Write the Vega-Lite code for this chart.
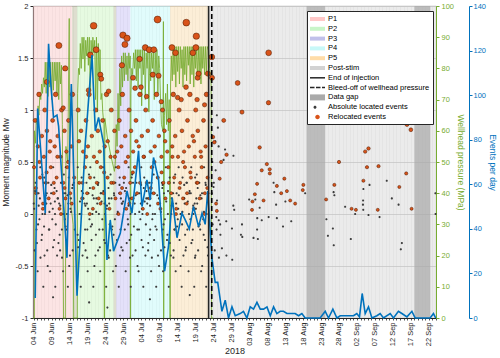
{
"$schema": "https://vega.github.io/schema/vega-lite/v6.json",
"width": 403, "height": 312,
"autosize": {"type": "none"},
"padding": {"left": 33, "top": 6, "right": 64, "bottom": 40},
"background": "white",
"config": {"font": "Liberation Sans", "view": {"stroke": "#9a9a9a", "strokeWidth": 0.8}, "axis": {"titleFontWeight": "normal", "labelColor": "#262626", "titleColor": "#262626"}},
"datasets": {
"phases": [
{"t":"2018-06-03T20:00","t2":"2018-06-14T17:00","c":"P1"},
{"t":"2018-06-14T17:00","t2":"2018-06-16T03:00","c":"S"},
{"t":"2018-06-16T03:00","t2":"2018-06-26T07:00","c":"P2"},
{"t":"2018-06-26T07:00","t2":"2018-06-27T00:00","c":"S"},
{"t":"2018-06-27T00:00","t2":"2018-06-30T22:00","c":"P3"},
{"t":"2018-06-30T22:00","t2":"2018-07-12T00:00","c":"P4"},
{"t":"2018-07-12T00:00","t2":"2018-07-22T17:00","c":"P5"},
{"t":"2018-07-22T17:00","t2":"2018-09-24T00:00","c":"Post"}
],
"gaps": [
{"t":"2018-08-18T23:00","t2":"2018-08-24T03:00"},
{"t":"2018-09-18T00:00","t2":"2018-09-22T10:00"}
],
"press": [
{"t":"2018-06-03T20:00","p":0},{"t":"2018-06-04T05:00","p":0},{"t":"2018-06-04T06:00","p":60},{"t":"2018-06-04T12:00","p":56},{"t":"2018-06-04T18:00","p":64},
{"t":"2018-06-05T00:00","p":62},{"t":"2018-06-05T06:00","p":68},{"t":"2018-06-05T12:00","p":65},{"t":"2018-06-05T18:00","p":72},
{"t":"2018-06-06T00:00","p":70},{"t":"2018-06-06T06:00","p":75},{"t":"2018-06-06T12:00","p":72},{"t":"2018-06-06T18:00","p":77},
{"t":"2018-06-07T00:00","p":74},{"t":"2018-06-07T06:00","p":82},{"t":"2018-06-07T12:00","p":72},{"t":"2018-06-07T18:00","p":82},
{"t":"2018-06-08T00:00","p":71},{"t":"2018-06-08T06:00","p":82},{"t":"2018-06-08T12:00","p":74},{"t":"2018-06-08T18:00","p":82},
{"t":"2018-06-09T00:00","p":70},{"t":"2018-06-09T06:00","p":82},{"t":"2018-06-09T12:00","p":73},{"t":"2018-06-09T18:00","p":82},
{"t":"2018-06-10T00:00","p":76},{"t":"2018-06-10T06:00","p":82},{"t":"2018-06-10T12:00","p":72},{"t":"2018-06-10T18:00","p":82},
{"t":"2018-06-11T00:00","p":70},{"t":"2018-06-11T06:00","p":82},{"t":"2018-06-11T12:00","p":75},{"t":"2018-06-11T18:00","p":81},
{"t":"2018-06-12T00:00","p":62},{"t":"2018-06-12T08:00","p":0},{"t":"2018-06-12T20:00","p":0},{"t":"2018-06-13T00:00","p":55},{"t":"2018-06-13T12:00","p":50},
{"t":"2018-06-13T22:00","p":96},{"t":"2018-06-14T02:00","p":40},{"t":"2018-06-14T12:00","p":35},{"t":"2018-06-15T00:00","p":30},{"t":"2018-06-15T04:00","p":0},
{"t":"2018-06-16T04:00","p":0},{"t":"2018-06-16T06:00","p":72},{"t":"2018-06-16T12:00","p":80},{"t":"2018-06-16T18:00","p":78},
{"t":"2018-06-17T00:00","p":88},{"t":"2018-06-17T06:00","p":80},{"t":"2018-06-17T12:00","p":90},{"t":"2018-06-17T18:00","p":83},
{"t":"2018-06-18T00:00","p":90},{"t":"2018-06-18T06:00","p":79},{"t":"2018-06-18T12:00","p":89},{"t":"2018-06-18T18:00","p":84},
{"t":"2018-06-19T00:00","p":90},{"t":"2018-06-19T06:00","p":81},{"t":"2018-06-19T12:00","p":90},{"t":"2018-06-19T18:00","p":73},
{"t":"2018-06-20T00:00","p":89},{"t":"2018-06-20T06:00","p":83},{"t":"2018-06-20T12:00","p":90},{"t":"2018-06-20T18:00","p":85},
{"t":"2018-06-21T00:00","p":89},{"t":"2018-06-21T06:00","p":70},{"t":"2018-06-21T12:00","p":90},{"t":"2018-06-21T18:00","p":66},
{"t":"2018-06-22T00:00","p":88},{"t":"2018-06-22T06:00","p":76},{"t":"2018-06-22T12:00","p":86},{"t":"2018-06-22T18:00","p":70},
{"t":"2018-06-23T00:00","p":72},{"t":"2018-06-23T06:00","p":66},{"t":"2018-06-23T14:00","p":62},{"t":"2018-06-23T16:00","p":0},{"t":"2018-06-23T18:00","p":0},
{"t":"2018-06-23T20:00","p":64},{"t":"2018-06-24T12:00","p":58},{"t":"2018-06-25T12:00","p":52},{"t":"2018-06-26T12:00","p":47},{"t":"2018-06-26T18:00","p":50},
{"t":"2018-06-27T00:00","p":62},{"t":"2018-06-27T06:00","p":55},{"t":"2018-06-27T12:00","p":72},{"t":"2018-06-27T18:00","p":60},
{"t":"2018-06-28T00:00","p":80},{"t":"2018-06-28T06:00","p":68},{"t":"2018-06-28T12:00","p":84},{"t":"2018-06-28T18:00","p":74},
{"t":"2018-06-29T00:00","p":85},{"t":"2018-06-29T06:00","p":76},{"t":"2018-06-29T12:00","p":85},{"t":"2018-06-29T18:00","p":78},
{"t":"2018-06-30T00:00","p":84},{"t":"2018-06-30T06:00","p":76},{"t":"2018-06-30T12:00","p":85},{"t":"2018-06-30T18:00","p":80},{"t":"2018-06-30T21:00","p":84},{"t":"2018-06-30T22:00","p":0},
{"t":"2018-07-01T00:00","p":0},{"t":"2018-07-01T02:00","p":72},{"t":"2018-07-01T08:00","p":80},{"t":"2018-07-01T14:00","p":78},{"t":"2018-07-01T20:00","p":85},
{"t":"2018-07-02T02:00","p":80},{"t":"2018-07-02T08:00","p":86},{"t":"2018-07-02T14:00","p":76},{"t":"2018-07-02T20:00","p":86},
{"t":"2018-07-03T02:00","p":74},{"t":"2018-07-03T08:00","p":86},{"t":"2018-07-03T14:00","p":80},{"t":"2018-07-03T20:00","p":86},
{"t":"2018-07-04T02:00","p":68},{"t":"2018-07-04T08:00","p":86},{"t":"2018-07-04T14:00","p":78},{"t":"2018-07-04T20:00","p":86},
{"t":"2018-07-05T02:00","p":70},{"t":"2018-07-05T08:00","p":85},{"t":"2018-07-05T14:00","p":80},{"t":"2018-07-05T20:00","p":86},
{"t":"2018-07-06T02:00","p":66},{"t":"2018-07-06T08:00","p":86},{"t":"2018-07-06T14:00","p":76},{"t":"2018-07-06T20:00","p":85},
{"t":"2018-07-07T02:00","p":80},{"t":"2018-07-07T08:00","p":86},{"t":"2018-07-07T14:00","p":70},{"t":"2018-07-07T20:00","p":85},
{"t":"2018-07-08T02:00","p":78},{"t":"2018-07-08T08:00","p":86},{"t":"2018-07-08T14:00","p":72},{"t":"2018-07-08T20:00","p":84},
{"t":"2018-07-09T02:00","p":80},{"t":"2018-07-09T08:00","p":70},{"t":"2018-07-09T14:00","p":62},{"t":"2018-07-10T00:00","p":60},{"t":"2018-07-10T03:00","p":95},{"t":"2018-07-10T05:00","p":0},
{"t":"2018-07-10T10:00","p":65},{"t":"2018-07-10T18:00","p":72},{"t":"2018-07-11T00:00","p":62},{"t":"2018-07-11T06:00","p":75},{"t":"2018-07-11T12:00","p":60},{"t":"2018-07-11T18:00","p":70},{"t":"2018-07-11T23:00","p":0},
{"t":"2018-07-12T01:00","p":0},{"t":"2018-07-12T03:00","p":75},{"t":"2018-07-12T08:00","p":84},{"t":"2018-07-12T14:00","p":76},{"t":"2018-07-12T20:00","p":87},
{"t":"2018-07-13T02:00","p":78},{"t":"2018-07-13T08:00","p":87},{"t":"2018-07-13T14:00","p":74},{"t":"2018-07-13T20:00","p":87},
{"t":"2018-07-14T02:00","p":79},{"t":"2018-07-14T08:00","p":87},{"t":"2018-07-14T14:00","p":75},{"t":"2018-07-14T20:00","p":87},
{"t":"2018-07-15T02:00","p":80},{"t":"2018-07-15T08:00","p":86},{"t":"2018-07-15T14:00","p":74},{"t":"2018-07-15T20:00","p":87},
{"t":"2018-07-16T02:00","p":78},{"t":"2018-07-16T08:00","p":87},{"t":"2018-07-16T14:00","p":76},{"t":"2018-07-16T20:00","p":87},
{"t":"2018-07-17T02:00","p":81},{"t":"2018-07-17T08:00","p":87},{"t":"2018-07-17T14:00","p":75},{"t":"2018-07-17T20:00","p":87},
{"t":"2018-07-18T02:00","p":78},{"t":"2018-07-18T08:00","p":87},{"t":"2018-07-18T14:00","p":74},{"t":"2018-07-18T20:00","p":87},
{"t":"2018-07-19T02:00","p":80},{"t":"2018-07-19T08:00","p":87},{"t":"2018-07-19T14:00","p":77},{"t":"2018-07-19T20:00","p":87},
{"t":"2018-07-20T02:00","p":78},{"t":"2018-07-20T08:00","p":87},{"t":"2018-07-20T14:00","p":75},{"t":"2018-07-20T20:00","p":87},
{"t":"2018-07-21T02:00","p":80},{"t":"2018-07-21T08:00","p":87},{"t":"2018-07-21T14:00","p":78},{"t":"2018-07-21T20:00","p":87},
{"t":"2018-07-22T02:00","p":79},{"t":"2018-07-22T08:00","p":87},{"t":"2018-07-22T14:00","p":86},{"t":"2018-07-22T17:00","p":86},
{"t":"2018-07-23T00:00","p":80},{"t":"2018-07-23T10:00","p":75},{"t":"2018-07-23T13:00","p":0},{"t":"2018-07-24T00:00","p":0}
],
"rate": [
{"t":"2018-06-04T11:00","v":9},{"t":"2018-06-05T03:00","v":94},{"t":"2018-06-07T06:00","v":47},{"t":"2018-06-08T04:00","v":123},{"t":"2018-06-08T19:00","v":105},
{"t":"2018-06-09T13:00","v":90},{"t":"2018-06-10T12:00","v":91},{"t":"2018-06-10T23:00","v":86},{"t":"2018-06-13T07:00","v":27},{"t":"2018-06-14T12:00","v":105},
{"t":"2018-06-16T02:00","v":10},{"t":"2018-06-18T09:00","v":78},{"t":"2018-06-20T06:00","v":118},{"t":"2018-06-21T04:00","v":84},{"t":"2018-06-22T02:00","v":90},
{"t":"2018-06-23T12:00","v":78},{"t":"2018-06-24T10:00","v":26},{"t":"2018-06-25T08:00","v":44},{"t":"2018-06-26T06:00","v":30},{"t":"2018-06-28T03:00","v":38},
{"t":"2018-06-30T00:00","v":57},{"t":"2018-07-01T09:00","v":47},{"t":"2018-07-03T05:00","v":75},{"t":"2018-07-04T04:00","v":50},{"t":"2018-07-05T13:00","v":62},
{"t":"2018-07-06T11:00","v":53},{"t":"2018-07-07T09:00","v":72},{"t":"2018-07-08T19:00","v":62},{"t":"2018-07-10T11:00","v":21},{"t":"2018-07-11T13:00","v":32},
{"t":"2018-07-12T14:00","v":54},{"t":"2018-07-13T22:00","v":36},{"t":"2018-07-15T07:00","v":47},{"t":"2018-07-16T05:00","v":44},{"t":"2018-07-17T08:00","v":40},
{"t":"2018-07-18T12:00","v":50},{"t":"2018-07-19T22:00","v":41},{"t":"2018-07-20T21:00","v":47},{"t":"2018-07-21T18:00","v":42},{"t":"2018-07-22T11:00","v":57},
{"t":"2018-07-23T15:00","v":27},{"t":"2018-07-24T13:00","v":16},{"t":"2018-07-25T06:00","v":16},{"t":"2018-07-26T10:00","v":3},{"t":"2018-07-27T08:00","v":8},
{"t":"2018-07-28T06:00","v":0},{"t":"2018-07-29T05:00","v":5},{"t":"2018-07-30T03:00","v":1},{"t":"2018-07-31T12:00","v":2},{"t":"2018-08-01T10:00","v":3},
{"t":"2018-08-02T09:00","v":0},{"t":"2018-08-03T07:00","v":5},{"t":"2018-08-04T05:00","v":4},{"t":"2018-08-05T04:00","v":7},{"t":"2018-08-06T02:00","v":4},
{"t":"2018-08-07T00:00","v":4},{"t":"2018-08-07T23:00","v":5},{"t":"2018-08-08T21:00","v":1},{"t":"2018-08-09T19:00","v":5},{"t":"2018-08-10T17:00","v":2},
{"t":"2018-08-11T15:00","v":3},{"t":"2018-08-12T13:00","v":3},{"t":"2018-08-13T12:00","v":2},{"t":"2018-08-14T10:00","v":2},{"t":"2018-08-15T19:00","v":2},
{"t":"2018-08-16T18:00","v":1},{"t":"2018-08-17T16:00","v":2},{"t":"2018-08-18T14:00","v":0},{"t":"2018-08-22T18:00","v":0},{"t":"2018-08-24T04:00","v":3},
{"t":"2018-08-25T02:00","v":0},{"t":"2018-08-26T07:00","v":4},{"t":"2018-08-27T10:00","v":0},{"t":"2018-08-28T08:00","v":1},{"t":"2018-09-01T01:00","v":1},
{"t":"2018-09-01T23:00","v":2},{"t":"2018-09-02T17:00","v":0.5},{"t":"2018-09-03T11:00","v":11},{"t":"2018-09-04T07:00","v":2},{"t":"2018-09-05T05:00","v":5},
{"t":"2018-09-06T04:00","v":0},{"t":"2018-09-07T13:00","v":1},{"t":"2018-09-08T11:00","v":2},{"t":"2018-09-09T09:00","v":0},{"t":"2018-09-11T06:00","v":2},
{"t":"2018-09-12T04:00","v":0},{"t":"2018-09-13T13:00","v":3},{"t":"2018-09-14T12:00","v":2},{"t":"2018-09-15T22:00","v":0.5},{"t":"2018-09-17T07:00","v":3},
{"t":"2018-09-18T05:00","v":0},{"t":"2018-09-22T09:00","v":0},{"t":"2018-09-23T07:00","v":2},{"t":"2018-09-23T22:00","v":0}
],
"abs": [
{"t":"2018-06-04T01:00","m":0.1},{"t":"2018-06-04T04:00","m":0.05},{"t":"2018-06-04T07:00","m":-0.35},{"t":"2018-06-04T13:00","m":0.3},{"t":"2018-06-04T16:00","m":0.25},{"t":"2018-06-04T19:00","m":-0.15},
{"t":"2018-06-05T03:00","m":-0.55},{"t":"2018-06-05T06:00","m":-0.1},{"t":"2018-06-05T09:00","m":0.2},{"t":"2018-06-05T15:00","m":-0.05},{"t":"2018-06-05T18:00","m":0.15},{"t":"2018-06-05T21:00","m":0.45},
{"t":"2018-06-06T05:00","m":-0.25},{"t":"2018-06-06T08:00","m":-0.2},{"t":"2018-06-06T11:00","m":0.0},{"t":"2018-06-06T17:00","m":-0.7},{"t":"2018-06-06T20:00","m":0.3},{"t":"2018-06-06T23:00","m":0.35},
{"t":"2018-06-07T01:00","m":-0.4},{"t":"2018-06-07T04:00","m":0.0},{"t":"2018-06-07T07:00","m":0.15},{"t":"2018-06-07T13:00","m":0.1},{"t":"2018-06-07T16:00","m":0.2},{"t":"2018-06-07T19:00","m":-0.35},
{"t":"2018-06-08T03:00","m":0.3},{"t":"2018-06-08T06:00","m":-0.15},{"t":"2018-06-08T09:00","m":-0.15},{"t":"2018-06-08T15:00","m":-0.55},{"t":"2018-06-08T18:00","m":0.1},{"t":"2018-06-08T21:00","m":0.2},
{"t":"2018-06-09T05:00","m":-0.05},{"t":"2018-06-09T08:00","m":0.05},{"t":"2018-06-09T10:00","m":-0.8},{"t":"2018-06-09T11:00","m":0.45},{"t":"2018-06-09T17:00","m":-0.25},{"t":"2018-06-09T20:00","m":0.25},{"t":"2018-06-09T23:00","m":0.0},
{"t":"2018-06-10T01:00","m":-0.7},{"t":"2018-06-10T04:00","m":-0.1},{"t":"2018-06-10T07:00","m":0.35},{"t":"2018-06-10T13:00","m":-0.4},{"t":"2018-06-10T16:00","m":0.15},{"t":"2018-06-10T19:00","m":0.15},
{"t":"2018-06-11T03:00","m":0.1},{"t":"2018-06-11T06:00","m":-0.2},{"t":"2018-06-11T09:00","m":-0.35},{"t":"2018-06-11T15:00","m":0.3},{"t":"2018-06-11T18:00","m":0.3},{"t":"2018-06-11T21:00","m":-0.15},
{"t":"2018-06-12T05:00","m":-0.55},{"t":"2018-06-12T08:00","m":0.0},{"t":"2018-06-12T11:00","m":0.2},{"t":"2018-06-12T17:00","m":-0.05},{"t":"2018-06-12T20:00","m":0.2},{"t":"2018-06-12T23:00","m":0.45},
{"t":"2018-06-13T01:00","m":-0.25},{"t":"2018-06-13T04:00","m":-0.15},{"t":"2018-06-13T07:00","m":0.0},{"t":"2018-06-13T13:00","m":-0.7},{"t":"2018-06-13T16:00","m":0.1},{"t":"2018-06-13T19:00","m":0.35},
{"t":"2018-06-14T03:00","m":-0.4},{"t":"2018-06-14T06:00","m":0.05},{"t":"2018-06-14T09:00","m":0.15},{"t":"2018-06-14T15:00","m":0.1},{"t":"2018-06-14T18:00","m":0.25},{"t":"2018-06-14T21:00","m":-0.35},
{"t":"2018-06-15T05:00","m":0.3},{"t":"2018-06-15T11:00","m":-0.15},
{"t":"2018-06-16T06:00","m":-0.2},{"t":"2018-06-16T07:00","m":0.45},{"t":"2018-06-16T13:00","m":-0.25},{"t":"2018-06-16T16:00","m":0.3},{"t":"2018-06-16T19:00","m":0.0},
{"t":"2018-06-17T03:00","m":-0.7},{"t":"2018-06-17T06:00","m":0.0},{"t":"2018-06-17T09:00","m":0.35},{"t":"2018-06-17T15:00","m":-0.4},{"t":"2018-06-17T18:00","m":0.2},{"t":"2018-06-17T21:00","m":0.15},
{"t":"2018-06-18T05:00","m":0.1},{"t":"2018-06-18T08:00","m":-0.15},{"t":"2018-06-18T11:00","m":-0.35},{"t":"2018-06-18T17:00","m":0.3},{"t":"2018-06-18T20:00","m":0.1},{"t":"2018-06-18T23:00","m":-0.15},
{"t":"2018-06-19T01:00","m":-0.55},{"t":"2018-06-19T04:00","m":0.05},{"t":"2018-06-19T07:00","m":0.2},{"t":"2018-06-19T11:00","m":-0.85},{"t":"2018-06-19T13:00","m":-0.05},{"t":"2018-06-19T16:00","m":0.25},{"t":"2018-06-19T19:00","m":0.45},
{"t":"2018-06-20T03:00","m":-0.25},{"t":"2018-06-20T06:00","m":-0.1},{"t":"2018-06-20T09:00","m":0.0},{"t":"2018-06-20T15:00","m":-0.7},{"t":"2018-06-20T18:00","m":0.15},{"t":"2018-06-20T21:00","m":0.35},
{"t":"2018-06-21T05:00","m":-0.4},{"t":"2018-06-21T08:00","m":-0.2},{"t":"2018-06-21T11:00","m":0.15},{"t":"2018-06-21T17:00","m":0.1},{"t":"2018-06-21T20:00","m":0.3},{"t":"2018-06-21T23:00","m":-0.35},
{"t":"2018-06-22T01:00","m":0.3},{"t":"2018-06-22T04:00","m":0.0},{"t":"2018-06-22T07:00","m":-0.15},{"t":"2018-06-22T13:00","m":-0.55},{"t":"2018-06-22T16:00","m":0.2},{"t":"2018-06-22T19:00","m":0.2},
{"t":"2018-06-23T03:00","m":-0.05},{"t":"2018-06-23T06:00","m":-0.15},{"t":"2018-06-23T09:00","m":0.45},{"t":"2018-06-23T15:00","m":-0.25},{"t":"2018-06-23T18:00","m":0.1},{"t":"2018-06-23T21:00","m":0.0},
{"t":"2018-06-24T05:00","m":-0.7},{"t":"2018-06-24T08:00","m":0.05},{"t":"2018-06-24T11:00","m":0.35},{"t":"2018-06-24T13:00","m":-0.9},{"t":"2018-06-24T17:00","m":-0.4},{"t":"2018-06-24T20:00","m":0.25},{"t":"2018-06-24T23:00","m":0.15},
{"t":"2018-06-25T01:00","m":0.1},{"t":"2018-06-25T04:00","m":-0.1},{"t":"2018-06-25T07:00","m":-0.35},{"t":"2018-06-25T13:00","m":0.3},{"t":"2018-06-25T16:00","m":0.15},{"t":"2018-06-25T19:00","m":-0.15},
{"t":"2018-06-26T03:00","m":-0.55},{"t":"2018-06-26T06:00","m":-0.2},{"t":"2018-06-26T09:00","m":0.2},{"t":"2018-06-26T15:00","m":-0.05},{"t":"2018-06-26T18:00","m":0.3},{"t":"2018-06-26T21:00","m":0.45},
{"t":"2018-06-27T05:00","m":-0.25},{"t":"2018-06-27T08:00","m":0.0},{"t":"2018-06-27T11:00","m":0.0},{"t":"2018-06-27T17:00","m":-0.7},{"t":"2018-06-27T20:00","m":0.2},{"t":"2018-06-27T23:00","m":0.35},
{"t":"2018-06-28T01:00","m":-0.4},{"t":"2018-06-28T04:00","m":-0.15},{"t":"2018-06-28T07:00","m":0.15},{"t":"2018-06-28T13:00","m":0.1},{"t":"2018-06-28T16:00","m":0.1},{"t":"2018-06-28T19:00","m":-0.35},
{"t":"2018-06-29T03:00","m":0.3},{"t":"2018-06-29T06:00","m":0.05},{"t":"2018-06-29T09:00","m":-0.15},{"t":"2018-06-29T15:00","m":-0.55},{"t":"2018-06-29T18:00","m":0.25},{"t":"2018-06-29T21:00","m":0.2},
{"t":"2018-06-30T05:00","m":-0.05},{"t":"2018-06-30T08:00","m":-0.1},{"t":"2018-06-30T11:00","m":0.45},{"t":"2018-06-30T17:00","m":-0.25},{"t":"2018-06-30T20:00","m":0.15},{"t":"2018-06-30T23:00","m":0.0},
{"t":"2018-07-01T01:00","m":-0.7},{"t":"2018-07-01T04:00","m":-0.2},{"t":"2018-07-01T07:00","m":0.35},{"t":"2018-07-01T13:00","m":-0.4},{"t":"2018-07-01T16:00","m":0.3},{"t":"2018-07-01T19:00","m":0.15},
{"t":"2018-07-02T03:00","m":0.1},{"t":"2018-07-02T06:00","m":0.0},{"t":"2018-07-02T09:00","m":-0.35},{"t":"2018-07-02T15:00","m":0.3},{"t":"2018-07-02T18:00","m":0.2},{"t":"2018-07-02T21:00","m":-0.15},
{"t":"2018-07-03T05:00","m":-0.55},{"t":"2018-07-03T08:00","m":-0.15},{"t":"2018-07-03T11:00","m":0.2},{"t":"2018-07-03T17:00","m":-0.05},{"t":"2018-07-03T20:00","m":0.1},{"t":"2018-07-03T23:00","m":0.45},
{"t":"2018-07-04T01:00","m":-0.25},{"t":"2018-07-04T04:00","m":0.05},{"t":"2018-07-04T07:00","m":0.0},{"t":"2018-07-04T13:00","m":-0.7},{"t":"2018-07-04T16:00","m":0.25},{"t":"2018-07-04T19:00","m":0.35},
{"t":"2018-07-05T03:00","m":-0.4},{"t":"2018-07-05T06:00","m":-0.1},{"t":"2018-07-05T09:00","m":0.15},{"t":"2018-07-05T15:00","m":0.1},{"t":"2018-07-05T18:00","m":0.15},{"t":"2018-07-05T21:00","m":-0.35},
{"t":"2018-07-06T05:00","m":0.3},{"t":"2018-07-06T08:00","m":-0.2},{"t":"2018-07-06T09:00","m":-0.82},{"t":"2018-07-06T11:00","m":-0.15},{"t":"2018-07-06T17:00","m":-0.55},{"t":"2018-07-06T20:00","m":0.3},{"t":"2018-07-06T23:00","m":0.2},
{"t":"2018-07-07T01:00","m":-0.05},{"t":"2018-07-07T04:00","m":0.0},{"t":"2018-07-07T07:00","m":0.45},{"t":"2018-07-07T13:00","m":-0.25},{"t":"2018-07-07T16:00","m":0.2},{"t":"2018-07-07T19:00","m":0.0},
{"t":"2018-07-08T03:00","m":-0.7},{"t":"2018-07-08T06:00","m":-0.15},{"t":"2018-07-08T09:00","m":0.35},{"t":"2018-07-08T15:00","m":-0.4},{"t":"2018-07-08T18:00","m":0.1},{"t":"2018-07-08T21:00","m":0.15},
{"t":"2018-07-09T05:00","m":0.1},{"t":"2018-07-09T08:00","m":0.05},{"t":"2018-07-09T11:00","m":-0.35},{"t":"2018-07-09T17:00","m":0.3},{"t":"2018-07-09T20:00","m":0.25},{"t":"2018-07-09T23:00","m":-0.15},
{"t":"2018-07-10T01:00","m":-0.55},{"t":"2018-07-10T04:00","m":-0.1},{"t":"2018-07-10T07:00","m":0.2},{"t":"2018-07-10T13:00","m":-0.05},{"t":"2018-07-10T16:00","m":0.15},{"t":"2018-07-10T19:00","m":0.45},
{"t":"2018-07-11T03:00","m":-0.25},{"t":"2018-07-11T06:00","m":-0.2},{"t":"2018-07-11T09:00","m":0.0},{"t":"2018-07-11T15:00","m":-0.7},{"t":"2018-07-11T18:00","m":0.3},{"t":"2018-07-11T21:00","m":0.35},
{"t":"2018-07-12T05:00","m":-0.4},{"t":"2018-07-12T08:00","m":0.0},{"t":"2018-07-12T11:00","m":0.15},{"t":"2018-07-12T17:00","m":0.1},{"t":"2018-07-12T20:00","m":0.2},{"t":"2018-07-12T23:00","m":-0.35},
{"t":"2018-07-13T01:00","m":0.3},{"t":"2018-07-13T04:00","m":-0.15},{"t":"2018-07-13T07:00","m":-0.15},{"t":"2018-07-13T13:00","m":-0.55},{"t":"2018-07-13T16:00","m":0.1},{"t":"2018-07-13T19:00","m":0.2},
{"t":"2018-07-14T03:00","m":-0.05},{"t":"2018-07-14T06:00","m":0.05},{"t":"2018-07-14T09:00","m":0.45},{"t":"2018-07-14T15:00","m":-0.25},{"t":"2018-07-14T18:00","m":0.25},{"t":"2018-07-14T21:00","m":0.0},
{"t":"2018-07-15T05:00","m":-0.7},{"t":"2018-07-15T08:00","m":-0.1},{"t":"2018-07-15T11:00","m":0.35},{"t":"2018-07-15T17:00","m":-0.4},{"t":"2018-07-15T20:00","m":0.15},{"t":"2018-07-15T23:00","m":0.15},
{"t":"2018-07-16T01:00","m":0.1},{"t":"2018-07-16T04:00","m":-0.2},{"t":"2018-07-16T07:00","m":-0.35},{"t":"2018-07-16T13:00","m":0.3},{"t":"2018-07-16T16:00","m":0.3},{"t":"2018-07-16T19:00","m":-0.15},
{"t":"2018-07-17T03:00","m":-0.55},{"t":"2018-07-17T06:00","m":0.0},{"t":"2018-07-17T09:00","m":0.2},{"t":"2018-07-17T11:00","m":-0.78},{"t":"2018-07-17T15:00","m":-0.05},{"t":"2018-07-17T18:00","m":0.2},{"t":"2018-07-17T21:00","m":0.45},
{"t":"2018-07-18T05:00","m":-0.25},{"t":"2018-07-18T08:00","m":-0.15},{"t":"2018-07-18T11:00","m":0.0},{"t":"2018-07-18T17:00","m":-0.7},{"t":"2018-07-18T20:00","m":0.1},{"t":"2018-07-18T23:00","m":0.35},
{"t":"2018-07-19T01:00","m":-0.4},{"t":"2018-07-19T04:00","m":0.05},{"t":"2018-07-19T07:00","m":0.15},{"t":"2018-07-19T13:00","m":0.1},{"t":"2018-07-19T16:00","m":0.25},{"t":"2018-07-19T19:00","m":-0.35},
{"t":"2018-07-20T03:00","m":0.3},{"t":"2018-07-20T06:00","m":-0.1},{"t":"2018-07-20T09:00","m":-0.15},{"t":"2018-07-20T15:00","m":-0.55},{"t":"2018-07-20T18:00","m":0.15},{"t":"2018-07-20T21:00","m":0.2},
{"t":"2018-07-21T05:00","m":-0.05},{"t":"2018-07-21T08:00","m":-0.2},{"t":"2018-07-21T11:00","m":0.45},{"t":"2018-07-21T17:00","m":-0.25},{"t":"2018-07-21T20:00","m":0.3},{"t":"2018-07-21T23:00","m":0.0},
{"t":"2018-07-22T01:00","m":-0.7},{"t":"2018-07-22T04:00","m":0.0},{"t":"2018-07-22T07:00","m":0.35},{"t":"2018-07-22T13:00","m":-0.4},{"t":"2018-07-22T16:00","m":0.2},
{"t":"2018-06-04T10:00","m":0.22},{"t":"2018-06-04T22:00","m":-0.28},{"t":"2018-06-05T10:00","m":0.08},{"t":"2018-06-05T22:00","m":-0.42},{"t":"2018-06-06T10:00","m":0.38},{"t":"2018-06-06T22:00","m":-0.12},
{"t":"2018-06-07T10:00","m":0.18},{"t":"2018-06-07T22:00","m":-0.5},{"t":"2018-06-08T10:00","m":0.02},{"t":"2018-06-08T22:00","m":0.28},{"t":"2018-06-09T10:00","m":-0.32},{"t":"2018-06-09T22:00","m":0.12},
{"t":"2018-06-10T10:00","m":0.22},{"t":"2018-06-10T22:00","m":-0.28},{"t":"2018-06-11T10:00","m":0.08},{"t":"2018-06-11T22:00","m":-0.42},{"t":"2018-06-12T10:00","m":0.38},{"t":"2018-06-12T22:00","m":-0.12},
{"t":"2018-06-13T10:00","m":0.18},{"t":"2018-06-13T22:00","m":-0.5},{"t":"2018-06-14T10:00","m":0.02},{"t":"2018-06-14T22:00","m":0.28},{"t":"2018-06-16T10:00","m":-0.32},{"t":"2018-06-16T22:00","m":0.12},
{"t":"2018-06-17T10:00","m":0.22},{"t":"2018-06-17T22:00","m":-0.28},{"t":"2018-06-18T10:00","m":0.08},{"t":"2018-06-18T22:00","m":-0.42},{"t":"2018-06-19T10:00","m":0.38},{"t":"2018-06-19T22:00","m":-0.12},
{"t":"2018-06-20T10:00","m":0.18},{"t":"2018-06-20T22:00","m":-0.5},{"t":"2018-06-21T10:00","m":0.02},{"t":"2018-06-21T22:00","m":0.28},{"t":"2018-06-22T10:00","m":-0.32},{"t":"2018-06-22T22:00","m":0.12},
{"t":"2018-06-23T10:00","m":0.22},{"t":"2018-06-23T22:00","m":-0.28},{"t":"2018-06-24T10:00","m":0.08},{"t":"2018-06-24T22:00","m":-0.42},{"t":"2018-06-25T10:00","m":0.38},{"t":"2018-06-25T22:00","m":-0.12},
{"t":"2018-06-26T10:00","m":0.18},{"t":"2018-06-26T22:00","m":-0.5},{"t":"2018-06-27T10:00","m":0.02},{"t":"2018-06-27T22:00","m":0.28},{"t":"2018-06-28T10:00","m":-0.32},{"t":"2018-06-28T22:00","m":0.12},
{"t":"2018-06-29T10:00","m":0.22},{"t":"2018-06-29T22:00","m":-0.28},{"t":"2018-06-30T10:00","m":0.08},{"t":"2018-06-30T20:00","m":-0.42},{"t":"2018-07-01T10:00","m":0.38},{"t":"2018-07-01T22:00","m":-0.12},
{"t":"2018-07-02T10:00","m":0.18},{"t":"2018-07-02T22:00","m":-0.5},{"t":"2018-07-03T10:00","m":0.02},{"t":"2018-07-03T22:00","m":0.28},{"t":"2018-07-04T10:00","m":-0.32},{"t":"2018-07-04T22:00","m":0.12},
{"t":"2018-07-05T10:00","m":0.22},{"t":"2018-07-05T22:00","m":-0.28},{"t":"2018-07-06T10:00","m":0.08},{"t":"2018-07-06T22:00","m":-0.42},{"t":"2018-07-07T10:00","m":0.38},{"t":"2018-07-07T22:00","m":-0.12},
{"t":"2018-07-08T10:00","m":0.18},{"t":"2018-07-08T22:00","m":-0.5},{"t":"2018-07-09T10:00","m":0.02},{"t":"2018-07-09T22:00","m":0.28},{"t":"2018-07-10T10:00","m":-0.32},{"t":"2018-07-10T22:00","m":0.12},
{"t":"2018-07-11T10:00","m":0.22},{"t":"2018-07-11T22:00","m":-0.28},{"t":"2018-07-12T10:00","m":0.08},{"t":"2018-07-12T22:00","m":-0.42},{"t":"2018-07-13T10:00","m":0.38},{"t":"2018-07-13T22:00","m":-0.12},
{"t":"2018-07-14T10:00","m":0.18},{"t":"2018-07-14T22:00","m":-0.5},{"t":"2018-07-15T10:00","m":0.02},{"t":"2018-07-15T22:00","m":0.28},{"t":"2018-07-16T10:00","m":-0.32},{"t":"2018-07-16T22:00","m":0.12},
{"t":"2018-07-17T10:00","m":0.22},{"t":"2018-07-17T22:00","m":-0.28},{"t":"2018-07-18T10:00","m":0.08},{"t":"2018-07-18T22:00","m":-0.42},{"t":"2018-07-19T10:00","m":0.38},{"t":"2018-07-19T22:00","m":-0.12},
{"t":"2018-07-20T10:00","m":0.18},{"t":"2018-07-20T22:00","m":-0.5},{"t":"2018-07-21T10:00","m":0.02},{"t":"2018-07-21T22:00","m":0.28},{"t":"2018-07-22T10:00","m":-0.32},
{"t":"2018-07-23T14:00","m":0.2},{"t":"2018-07-23T18:00","m":0.5},{"t":"2018-07-23T20:00","m":-0.1},{"t":"2018-07-24T02:00","m":0.26},{"t":"2018-07-24T04:00","m":0.3},{"t":"2018-07-24T10:00","m":-0.35},
{"t":"2018-07-24T14:00","m":0.7},{"t":"2018-07-24T16:00","m":0.42},{"t":"2018-07-24T20:00","m":-0.03},{"t":"2018-07-24T22:00","m":-0.15},{"t":"2018-07-25T00:00","m":0.95},{"t":"2018-07-25T01:00","m":0.13},
{"t":"2018-07-25T07:00","m":0.83},{"t":"2018-07-25T12:00","m":0.65},{"t":"2018-07-25T13:00","m":-0.06},{"t":"2018-07-25T14:00","m":-0.42},{"t":"2018-07-25T22:00","m":-0.1},{"t":"2018-07-26T00:00","m":-0.2},
{"t":"2018-07-26T10:00","m":-0.33},{"t":"2018-07-26T21:00","m":0.52},{"t":"2018-07-27T07:00","m":0.62},{"t":"2018-07-27T15:00","m":-0.07},{"t":"2018-07-27T16:00","m":-0.4},{"t":"2018-07-29T05:00","m":-0.14},
{"t":"2018-07-29T07:00","m":-0.44},{"t":"2018-07-29T14:00","m":0.08},{"t":"2018-07-29T15:00","m":0.56},{"t":"2018-07-29T20:00","m":0.04},{"t":"2018-07-31T17:00","m":-0.2},{"t":"2018-08-01T00:00","m":-0.1},
{"t":"2018-08-01T02:00","m":-0.22},{"t":"2018-08-03T00:00","m":0.14},{"t":"2018-08-04T05:00","m":-0.23},{"t":"2018-08-04T17:00","m":0.14},{"t":"2018-08-05T05:00","m":-0.15},{"t":"2018-08-05T06:00","m":-0.04},
{"t":"2018-08-05T10:00","m":-0.24},{"t":"2018-08-05T22:00","m":0.06},{"t":"2018-08-06T12:00","m":-0.06},{"t":"2018-08-08T10:00","m":-0.03},{"t":"2018-08-09T19:00","m":0.3},{"t":"2018-08-10T00:00","m":0.21},
{"t":"2018-08-10T12:00","m":0.09},{"t":"2018-08-10T17:00","m":-0.04},{"t":"2018-08-12T10:00","m":-0.12},{"t":"2018-08-13T02:00","m":0.12},{"t":"2018-08-14T17:00","m":-0.07},{"t":"2018-08-18T14:00","m":0.2},
{"t":"2018-08-24T12:00","m":-0.05},{"t":"2018-08-24T22:00","m":-0.21},{"t":"2018-08-26T07:00","m":-0.14},{"t":"2018-08-26T12:00","m":0.21},{"t":"2018-08-26T13:00","m":-0.3},{"t":"2018-08-26T17:00","m":0.18},
{"t":"2018-08-29T17:00","m":0.07},{"t":"2018-08-31T07:00","m":-0.24},{"t":"2018-09-01T12:00","m":0.0},{"t":"2018-09-03T16:00","m":0.09},{"t":"2018-09-03T17:00","m":0.13},{"t":"2018-09-03T18:00","m":0.04},
{"t":"2018-09-03T19:00","m":0.24},{"t":"2018-09-05T05:00","m":-0.01},{"t":"2018-09-05T12:00","m":0.28},{"t":"2018-09-08T07:00","m":-0.03},{"t":"2018-09-10T07:00","m":0.32},{"t":"2018-09-11T17:00","m":0.15},
{"t":"2018-09-13T14:00","m":0.09},{"t":"2018-09-14T05:00","m":-0.34},{"t":"2018-09-14T12:00","m":-0.28},{"t":"2018-09-23T20:00","m":0.2},{"t":"2018-09-23T21:00","m":0.0}
],
"rel": [
{"t":"2018-06-04T03:00","m":0.45},{"t":"2018-06-04T10:00","m":0.9},{"t":"2018-06-04T17:00","m":0.2},
{"t":"2018-06-05T05:00","m":0.65},{"t":"2018-06-05T12:00","m":1.15},{"t":"2018-06-05T19:00","m":0.35},
{"t":"2018-06-06T07:00","m":0.75},{"t":"2018-06-06T14:00","m":0.05},{"t":"2018-06-06T21:00","m":0.55},
{"t":"2018-06-07T03:00","m":1.0},{"t":"2018-06-07T10:00","m":0.3},{"t":"2018-06-07T16:00","m":1.27},{"t":"2018-06-07T17:00","m":0.8},
{"t":"2018-06-08T05:00","m":0.15},{"t":"2018-06-08T12:00","m":0.6},{"t":"2018-06-08T19:00","m":0.45},
{"t":"2018-06-09T07:00","m":0.9},{"t":"2018-06-09T14:00","m":0.2},{"t":"2018-06-09T21:00","m":0.65},
{"t":"2018-06-10T03:00","m":1.15},{"t":"2018-06-10T10:00","m":0.35},{"t":"2018-06-10T17:00","m":0.75},
{"t":"2018-06-11T01:00","m":1.62},{"t":"2018-06-11T05:00","m":0.05},{"t":"2018-06-11T12:00","m":0.55},{"t":"2018-06-11T19:00","m":1.0},
{"t":"2018-06-12T06:00","m":1.02},{"t":"2018-06-12T07:00","m":0.3},{"t":"2018-06-12T14:00","m":0.8},{"t":"2018-06-12T19:00","m":1.4},{"t":"2018-06-12T21:00","m":0.15},
{"t":"2018-06-13T03:00","m":0.6},{"t":"2018-06-13T10:00","m":0.45},{"t":"2018-06-13T17:00","m":0.9},
{"t":"2018-06-14T05:00","m":0.2},{"t":"2018-06-14T12:00","m":0.65},{"t":"2018-06-14T19:00","m":1.15},
{"t":"2018-06-15T07:00","m":0.35},
{"t":"2018-06-16T10:00","m":1.0},{"t":"2018-06-16T17:00","m":0.3},
{"t":"2018-06-17T05:00","m":0.8},{"t":"2018-06-17T12:00","m":0.15},{"t":"2018-06-17T19:00","m":0.6},
{"t":"2018-06-18T07:00","m":0.45},{"t":"2018-06-18T14:00","m":0.9},{"t":"2018-06-18T21:00","m":0.2},
{"t":"2018-06-19T03:00","m":0.65},{"t":"2018-06-19T07:00","m":1.19},{"t":"2018-06-19T10:00","m":1.15},{"t":"2018-06-19T17:00","m":0.35},{"t":"2018-06-19T19:00","m":1.53},
{"t":"2018-06-20T05:00","m":0.75},{"t":"2018-06-20T12:00","m":0.05},{"t":"2018-06-20T17:00","m":1.81},{"t":"2018-06-20T19:00","m":0.55},
{"t":"2018-06-21T07:00","m":1.0},{"t":"2018-06-21T10:00","m":1.58},{"t":"2018-06-21T14:00","m":0.3},{"t":"2018-06-21T21:00","m":0.8},
{"t":"2018-06-22T03:00","m":0.15},{"t":"2018-06-22T10:00","m":0.6},{"t":"2018-06-22T14:00","m":1.34},{"t":"2018-06-22T17:00","m":0.45},{"t":"2018-06-22T20:00","m":1.3},
{"t":"2018-06-23T05:00","m":0.9},{"t":"2018-06-23T12:00","m":0.2},{"t":"2018-06-23T19:00","m":0.65},
{"t":"2018-06-24T07:00","m":1.15},{"t":"2018-06-24T14:00","m":0.35},{"t":"2018-06-24T21:00","m":1.18},
{"t":"2018-06-25T03:00","m":0.05},{"t":"2018-06-25T10:00","m":0.55},{"t":"2018-06-25T15:00","m":1.0},
{"t":"2018-06-26T05:00","m":0.3},{"t":"2018-06-26T12:00","m":0.8},{"t":"2018-06-26T19:00","m":0.15},
{"t":"2018-06-27T07:00","m":0.6},{"t":"2018-06-27T14:00","m":0.45},{"t":"2018-06-27T21:00","m":0.9},
{"t":"2018-06-28T03:00","m":0.2},{"t":"2018-06-28T10:00","m":0.65},{"t":"2018-06-28T14:00","m":1.43},{"t":"2018-06-28T17:00","m":1.15},{"t":"2018-06-28T21:00","m":1.72},
{"t":"2018-06-29T05:00","m":0.35},{"t":"2018-06-29T10:00","m":1.63},{"t":"2018-06-29T12:00","m":0.75},{"t":"2018-06-29T19:00","m":0.05},
{"t":"2018-06-30T00:00","m":1.69},{"t":"2018-06-30T07:00","m":0.55},{"t":"2018-06-30T14:00","m":1.0},{"t":"2018-06-30T21:00","m":0.3},
{"t":"2018-07-01T03:00","m":0.8},{"t":"2018-07-01T10:00","m":0.15},{"t":"2018-07-01T16:00","m":1.31},{"t":"2018-07-01T17:00","m":0.6},
{"t":"2018-07-02T05:00","m":0.45},{"t":"2018-07-02T06:00","m":1.21},{"t":"2018-07-02T12:00","m":0.9},{"t":"2018-07-02T19:00","m":0.2},
{"t":"2018-07-03T07:00","m":0.65},{"t":"2018-07-03T12:00","m":1.49},{"t":"2018-07-03T14:00","m":1.15},{"t":"2018-07-03T21:00","m":1.22},
{"t":"2018-07-04T03:00","m":0.75},{"t":"2018-07-04T10:00","m":0.05},{"t":"2018-07-04T17:00","m":0.55},
{"t":"2018-07-05T02:00","m":1.6},{"t":"2018-07-05T05:00","m":1.0},{"t":"2018-07-05T11:00","m":1.13},{"t":"2018-07-05T12:00","m":0.3},{"t":"2018-07-05T19:00","m":0.8},
{"t":"2018-07-06T04:00","m":1.58},{"t":"2018-07-06T07:00","m":0.15},{"t":"2018-07-06T14:00","m":0.6},{"t":"2018-07-06T21:00","m":0.45},
{"t":"2018-07-07T03:00","m":0.9},{"t":"2018-07-07T04:00","m":1.34},{"t":"2018-07-07T10:00","m":0.2},{"t":"2018-07-07T11:00","m":1.58},{"t":"2018-07-07T17:00","m":0.65},
{"t":"2018-07-08T05:00","m":1.15},{"t":"2018-07-08T12:00","m":1.87},{"t":"2018-07-08T14:00","m":0.35},{"t":"2018-07-08T19:00","m":1.33},{"t":"2018-07-08T21:00","m":0.75},
{"t":"2018-07-09T07:00","m":0.05},{"t":"2018-07-09T13:00","m":1.08},{"t":"2018-07-09T14:00","m":0.55},{"t":"2018-07-09T21:00","m":1.0},
{"t":"2018-07-10T03:00","m":0.3},{"t":"2018-07-10T10:00","m":0.8},{"t":"2018-07-10T17:00","m":0.15},
{"t":"2018-07-11T05:00","m":0.6},{"t":"2018-07-11T12:00","m":0.45},{"t":"2018-07-11T19:00","m":0.9},
{"t":"2018-07-12T07:00","m":0.2},{"t":"2018-07-12T12:00","m":1.6},{"t":"2018-07-12T14:00","m":0.65},{"t":"2018-07-12T21:00","m":1.15},
{"t":"2018-07-13T03:00","m":0.35},{"t":"2018-07-13T10:00","m":0.75},{"t":"2018-07-13T12:00","m":1.55},{"t":"2018-07-13T17:00","m":0.05},
{"t":"2018-07-14T02:00","m":1.12},{"t":"2018-07-14T05:00","m":0.55},{"t":"2018-07-14T12:00","m":1.0},{"t":"2018-07-14T19:00","m":0.3},
{"t":"2018-07-15T02:00","m":1.1},{"t":"2018-07-15T07:00","m":0.8},{"t":"2018-07-15T14:00","m":0.15},{"t":"2018-07-15T21:00","m":0.6},
{"t":"2018-07-16T03:00","m":0.45},{"t":"2018-07-16T10:00","m":1.22},{"t":"2018-07-16T12:00","m":1.84},{"t":"2018-07-16T17:00","m":0.2},{"t":"2018-07-16T20:00","m":0.9},
{"t":"2018-07-17T05:00","m":0.65},{"t":"2018-07-17T12:00","m":1.15},{"t":"2018-07-17T19:00","m":0.35},
{"t":"2018-07-18T07:00","m":0.75},{"t":"2018-07-18T08:00","m":1.55},{"t":"2018-07-18T14:00","m":0.05},{"t":"2018-07-18T21:00","m":0.55},
{"t":"2018-07-19T03:00","m":1.0},{"t":"2018-07-19T04:00","m":1.6},{"t":"2018-07-19T07:00","m":1.71},{"t":"2018-07-19T10:00","m":0.3},{"t":"2018-07-19T12:00","m":1.1},{"t":"2018-07-19T16:00","m":1.31},{"t":"2018-07-19T17:00","m":0.8},{"t":"2018-07-19T22:00","m":1.35},
{"t":"2018-07-20T05:00","m":0.15},{"t":"2018-07-20T12:00","m":0.6},{"t":"2018-07-20T19:00","m":0.45},
{"t":"2018-07-21T07:00","m":0.9},{"t":"2018-07-21T14:00","m":1.05},{"t":"2018-07-21T16:00","m":0.2},{"t":"2018-07-21T21:00","m":0.65},
{"t":"2018-07-22T03:00","m":1.15},{"t":"2018-07-22T10:00","m":0.35},{"t":"2018-07-22T12:00","m":1.35},
{"t":"2018-06-04T15:00","m":0.25},{"t":"2018-06-05T15:00","m":0.5},{"t":"2018-06-06T15:00","m":0.1},{"t":"2018-06-07T15:00","m":0.4},{"t":"2018-06-08T15:00","m":0.7},{"t":"2018-06-09T15:00","m":0.3},
{"t":"2018-06-10T15:00","m":0.55},{"t":"2018-06-11T15:00","m":0.0},{"t":"2018-06-12T15:00","m":0.25},{"t":"2018-06-13T15:00","m":0.5},{"t":"2018-06-14T15:00","m":0.1},{"t":"2018-06-16T15:00","m":0.7},
{"t":"2018-06-17T15:00","m":0.3},{"t":"2018-06-18T15:00","m":0.55},{"t":"2018-06-19T15:00","m":0.0},{"t":"2018-06-20T15:00","m":0.25},{"t":"2018-06-21T15:00","m":0.5},{"t":"2018-06-22T15:00","m":0.1},
{"t":"2018-06-23T15:00","m":0.4},{"t":"2018-06-24T15:00","m":0.7},{"t":"2018-06-25T15:00","m":0.3},{"t":"2018-06-26T15:00","m":0.55},{"t":"2018-06-27T15:00","m":0.0},{"t":"2018-06-28T15:00","m":0.25},
{"t":"2018-06-29T15:00","m":0.5},{"t":"2018-06-30T15:00","m":0.1},{"t":"2018-07-01T15:00","m":0.4},{"t":"2018-07-02T15:00","m":0.7},{"t":"2018-07-03T15:00","m":0.3},{"t":"2018-07-04T15:00","m":0.55},
{"t":"2018-07-05T15:00","m":0.0},{"t":"2018-07-06T15:00","m":0.25},{"t":"2018-07-07T15:00","m":0.5},{"t":"2018-07-08T15:00","m":0.1},{"t":"2018-07-09T15:00","m":0.4},{"t":"2018-07-10T15:00","m":0.7},
{"t":"2018-07-11T15:00","m":0.3},{"t":"2018-07-12T15:00","m":0.55},{"t":"2018-07-13T15:00","m":0.0},{"t":"2018-07-14T15:00","m":0.25},{"t":"2018-07-15T15:00","m":0.5},{"t":"2018-07-16T15:00","m":0.1},
{"t":"2018-07-17T15:00","m":0.4},{"t":"2018-07-18T15:00","m":0.7},{"t":"2018-07-19T15:00","m":0.3},{"t":"2018-07-20T15:00","m":0.55},{"t":"2018-07-21T15:00","m":0.0},{"t":"2018-07-22T08:00","m":0.25},
{"t":"2018-07-23T15:00","m":1.51},{"t":"2018-07-23T16:00","m":1.31},{"t":"2018-07-23T22:00","m":0.74},{"t":"2018-07-24T07:00","m":0.69},{"t":"2018-07-24T19:00","m":0.1},
{"t":"2018-07-25T00:00","m":0.03},{"t":"2018-07-25T19:00","m":0.34},{"t":"2018-07-26T05:00","m":0.5},{"t":"2018-07-26T22:00","m":0.9},{"t":"2018-07-27T17:00","m":0.57},
{"t":"2018-07-30T19:00","m":1.26},{"t":"2018-08-01T00:00","m":0.98},{"t":"2018-08-03T19:00","m":0.04},{"t":"2018-08-03T22:00","m":0.12},{"t":"2018-08-04T14:00","m":0.19},
{"t":"2018-08-05T05:00","m":0.29},{"t":"2018-08-05T22:00","m":0.64},{"t":"2018-08-06T12:00","m":0.42},{"t":"2018-08-07T00:00","m":0.13},{"t":"2018-08-07T22:00","m":0.48},
{"t":"2018-08-08T09:00","m":1.07},{"t":"2018-08-08T10:00","m":1.55},{"t":"2018-08-08T17:00","m":0.43},{"t":"2018-08-08T18:00","m":0.39},{"t":"2018-08-10T17:00","m":0.27},
{"t":"2018-08-11T22:00","m":0.2},{"t":"2018-08-12T19:00","m":0.34},{"t":"2018-08-13T12:00","m":0.22},{"t":"2018-08-14T10:00","m":0.13},{"t":"2018-08-15T19:00","m":0.1},
{"t":"2018-08-17T22:00","m":0.23},{"t":"2018-08-18T02:00","m":0.28},
{"t":"2018-08-24T10:00","m":0.14},{"t":"2018-08-26T17:00","m":0.28},{"t":"2018-08-28T00:00","m":0.5},{"t":"2018-08-31T12:00","m":0.05},{"t":"2018-09-01T17:00","m":0.04},
{"t":"2018-09-03T19:00","m":0.32},{"t":"2018-09-04T07:00","m":0.6},{"t":"2018-09-04T19:00","m":0.45},{"t":"2018-09-05T05:00","m":0.63},{"t":"2018-09-07T19:00","m":0.04},
{"t":"2018-09-08T00:00","m":0.46},{"t":"2018-09-13T19:00","m":0.26},{"t":"2018-09-15T17:00","m":0.39},{"t":"2018-09-15T22:00","m":0.86},{"t":"2018-09-17T00:00","m":0.81},
{"t":"2018-09-17T05:00","m":0.05}
]
},
"encoding": {
"x": {"field": "t", "type": "temporal",
"scale": {"domain": [{"year": 2018, "month": 6, "date": 3, "hours": 20}, {"year": 2018, "month": 9, "date": 24}]},
"axis": {"title": "2018", "titleFontSize": 9, "titlePadding": 1, "labelAngle": 270, "labelAlign": "right", "labelBaseline": "middle", "labelFontSize": 7.5, "labelOverlap": false, "labelPadding": 2,
"tickCount": {"interval": "day", "step": 1},
"labelExpr": "round((datum.value - datetime(2018,5,4)) / 86400000) % 5 == 0 ? timeFormat(datum.value, '%d %b') : ''",
"tickSize": 2, "tickColor": "#555555", "domainColor": "#262626", "grid": true, "gridColor": "#8a8a8a", "gridOpacity": 0.25, "gridDash": [1, 1]}}
},
"layer": [
{"data": {"name": "phases"}, "mark": {"type": "rect", "opacity": 0.5},
"encoding": {"x2": {"field": "t2"},
"fill": {"field": "c", "type": "nominal", "legend": null,
"scale": {"domain": ["P1","P2","P3","P4","P5","Post","S"], "range": ["#f9c9c9","#cdf5c3","#c9c3f5","#c3f9f9","#f9ddaf","#d7d7d7","#bdbd9f"]}}}},
{"data": {"name": "gaps"}, "mark": {"type": "rect", "color": "#a8a8a8", "opacity": 0.7}, "encoding": {"x2": {"field": "t2"}}},
{"data": {"name": "press"}, "mark": {"type": "line", "color": "#77AC30", "strokeWidth": 1, "opacity": 0.85},
"encoding": {"y": {"field": "p", "type": "quantitative", "scale": {"domain": [0, 100]},
"axis": {"orient": "right", "title": "Wellhead pressure (MPa)", "values": [0,10,20,30,40,50,60,70,80,90,100], "grid": false,
"titleColor": "#77AC30", "labelColor": "#77AC30", "tickColor": "#77AC30", "domainColor": "#77AC30", "labelFontSize": 7.5, "titleFontSize": 8.5, "tickSize": 3, "labelPadding": 2, "titlePadding": 2}}}},
{"data": {"name": "abs"}, "mark": {"type": "point", "filled": true, "size": 50, "opacity": 1},
"encoding": {"y": {"field": "m", "type": "quantitative", "scale": {"domain": [-1, 2]},
"axis": {"orient": "left", "title": "Moment magnitude  Mᴡ", "values": [-1,-0.5,0,0.5,1,1.5,2], "labelExpr": "datum.value + ''", "grid": true, "gridColor": "#b5b5b5", "gridOpacity": 0.8,
"tickSize": 3, "labelFontSize": 7.5, "titleFontSize": 8.5, "domainColor": "#262626", "tickColor": "#262626", "labelPadding": 2, "titlePadding": 5}},
"color": {"datum": "Absolute located events", "type": "nominal",
"scale": {"domain": ["P1","P2","P3","P4","P5","Post-stim","End of injection","Bleed-off of wellhead pressure","Data gap","Absolute located events","Relocated events"],
"range": ["#ffc8c8","#c8f5c8","#c0c0ea","#c8f8f8","#ffdca8","#d2d2d2","#262626","#262626","#aaaaaa","#3c3c3c","#D95319"]},
"legend": {"title": null, "orient": "none", "legendX": 274, "legendY": 5, "symbolSize": 100, "labelFontSize": 7.5, "labelColor": "#000000", "fillColor": "#ffffff", "strokeColor": "#262626", "padding": 3, "rowPadding": 0.8, "labelOffset": 8, "symbolStrokeWidth": 0, "labelLimit": 220, "symbolOpacity": 1}},
"shape": {"datum": "Absolute located events", "type": "nominal",
"scale": {"domain": ["P1","P2","P3","P4","P5","Post-stim","End of injection","Bleed-off of wellhead pressure","Data gap","Absolute located events","Relocated events"],
"range": ["M-1,-0.4H2V0.4H-1Z","M-1,-0.4H2V0.4H-1Z","M-1,-0.4H2V0.4H-1Z","M-1,-0.4H2V0.4H-1Z","M-1,-0.4H2V0.4H-1Z","M-1,-0.4H2V0.4H-1Z","M-1,-0.15H2V0.15H-1Z","M-1,-0.15H-0.1V0.15H-1Z M0.2,-0.15H1.1V0.15H0.2Z M1.4,-0.15H2V0.15H1.4Z","M-1,-0.6H2V0.6H-1Z","M-0.3,0 A0.3,0.3 0 1 0 0.3,0 A0.3,0.3 0 1 0 -0.3,0 Z","M0.05,0 A0.45,0.45 0 1 0 0.95,0 A0.45,0.45 0 1 0 0.05,0 Z"]},
"legend": {"title": null, "orient": "none", "legendX": 274, "legendY": 5, "symbolSize": 100, "labelFontSize": 7.5, "labelColor": "#000000", "fillColor": "#ffffff", "strokeColor": "#262626", "padding": 3, "rowPadding": 0.8, "labelOffset": 8, "symbolStrokeWidth": 0, "labelLimit": 220, "symbolOpacity": 1}}}},
{"data": {"name": "rel"}, "mark": {"type": "circle", "fill": "#D95319", "stroke": "#4a1800", "strokeWidth": 0.5, "opacity": 1, "fillOpacity": 1},
"encoding": {"y": {"field": "m", "type": "quantitative", "scale": {"domain": [-1, 2]}, "axis": null},
"size": {"field": "m", "type": "quantitative", "legend": null, "scale": {"type": "pow", "exponent": 2.5, "domain": [-1, 2], "range": [1.5, 55]}}}},
{"data": {"name": "rate"}, "mark": {"type": "line", "color": "#0072BD", "strokeWidth": 1.6},
"encoding": {"y": {"field": "v", "type": "quantitative", "scale": {"domain": [0, 140]},
"axis": {"orient": "right", "offset": 33, "title": "Events per day", "values": [0,20,40,60,80,100,120,140], "grid": false,
"titleColor": "#0072BD", "labelColor": "#0072BD", "tickColor": "#0072BD", "domainColor": "#0072BD", "labelFontSize": 7.5, "titleFontSize": 8.5, "tickSize": 3, "labelPadding": 1, "titlePadding": 2}}}},
{"data": {"values": [{"t": "2018-07-22T17:00"}]}, "mark": {"type": "rule", "color": "#262626", "strokeWidth": 1.6}, "encoding": {}},
{"data": {"values": [{"t": "2018-07-23T14:00"}]}, "mark": {"type": "rule", "color": "#000000", "strokeWidth": 1.6, "strokeDash": [5, 3]}, "encoding": {}}
],
"resolve": {"scale": {"y": "independent"}}
}
